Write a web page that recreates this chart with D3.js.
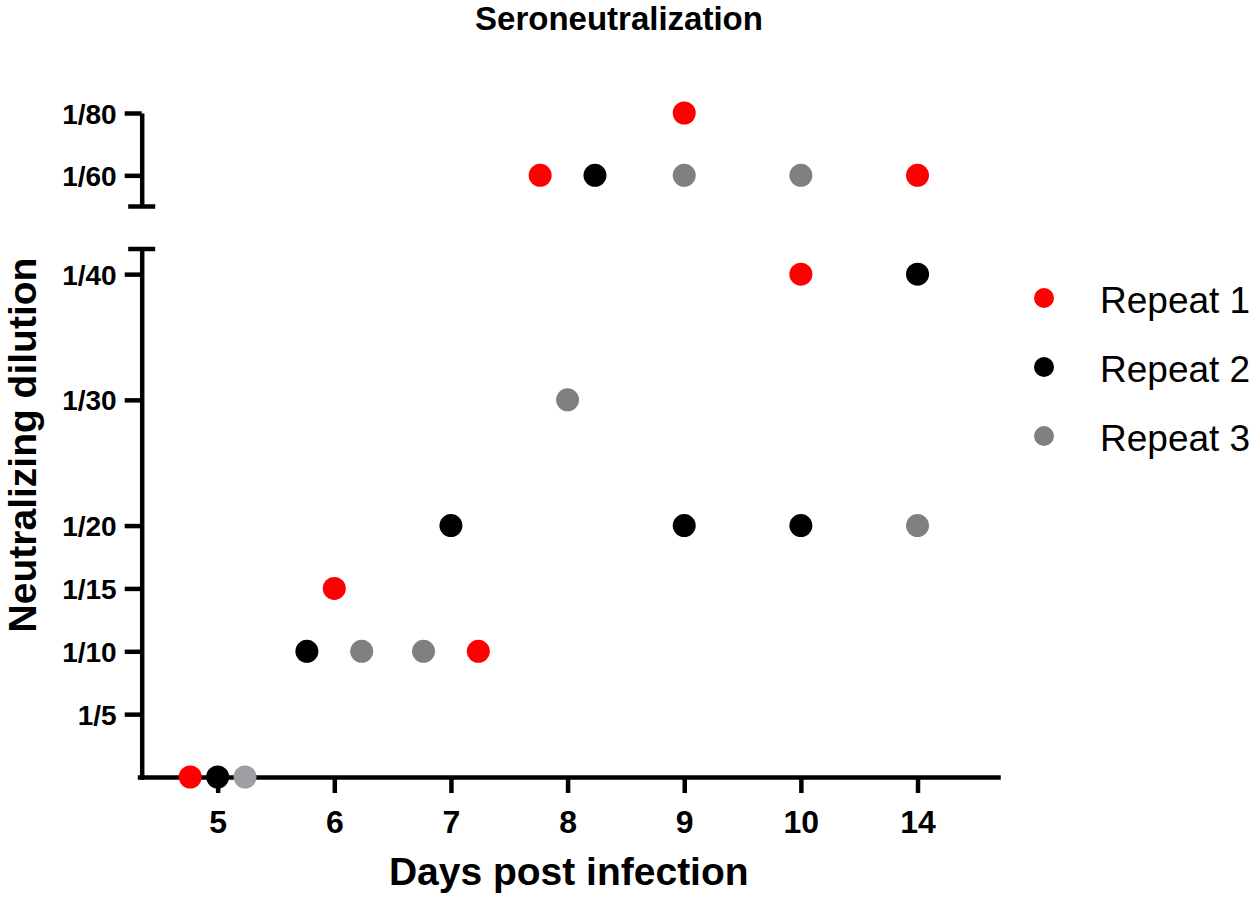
<!DOCTYPE html>
<html>
<head>
<meta charset="utf-8">
<script src="https://cdn.jsdelivr.net/npm/d3@7"></script>
<style>
  body { margin: 0; background: #fff; }
  svg { display: block; }
  text { font-family: "Liberation Sans", Arial, Helvetica, sans-serif; fill: #000; }
</style>
</head>
<body>
<div id="chart"></div>
<script>
// data (value = denominator of the dilution, 0 = none)
const days = ["5", "6", "7", "8", "9", "10", "14"];
const repeat1 = [0, 15, 10, 60, 80, 40, 60];
const repeat2 = [0, 10, 20, 60, 20, 20, 40];
const repeat3 = [0, 10, 10, 30, 60, 60, 20];
// side by side slot when values coincide on a day (-1 left, 0 centre, 1 right)
const slot1 = [-1, 0, 1, -1, 0, 0, 0];
const slot2 = [0, -1, 0, 1, 0, 0, 0];
const slot3 = [1, 1, -1, 0, 0, 0, 0];
const lowerTicks = [5, 10, 15, 20, 30, 40];
const upperTicks = [60, 80];
const seriesNames = ["Repeat 1", "Repeat 2", "Repeat 3"];
const seriesColors = ["#ff0000", "#000000", "#808080"];

const W = 1260, H = 904;
const svg = d3.select("#chart").append("svg")
    .attr("width", W)
    .attr("height", H);

const x = d3.scaleLinear().domain([-0.67, 6.69]).range([139.5, 998]);
const yLow = d3.scaleLinear().domain([0, 42]).range([777, 249]);
const yHigh = d3.scaleLinear().domain([50, 80]).range([206.5, 113]);
const y = v => v >= 50 ? yHigh(v) : yLow(v);
const axisX = 141.7;
const spread = 0.235;
const lw = 4.5;

function styleAxis(g) {
    g.selectAll(".domain").attr("stroke", "#000").attr("stroke-width", lw).attr("stroke-linecap", "square");
    g.selectAll(".tick line").attr("stroke", "#000").attr("stroke-width", lw);
}

// x axis
const gx = svg.append("g")
    .attr("transform", `translate(0,${yLow(0)})`)
    .call(d3.axisBottom(x)
        .tickValues(d3.range(days.length))
        .tickFormat(i => days[i])
        .tickSizeInner(16)
        .tickSizeOuter(0));
styleAxis(gx);
gx.selectAll(".tick text")
    .attr("y", 56).attr("dy", 0)
    .attr("font-size", 32).attr("font-weight", "bold")
    .attr("font-family", "Liberation Sans, Arial, sans-serif");

// y axis, lower part
const gyLow = svg.append("g")
    .attr("transform", `translate(${axisX},0)`)
    .call(d3.axisLeft(yLow)
        .tickValues(lowerTicks)
        .tickFormat(d => "1/" + d)
        .tickSizeInner(17)
        .tickSizeOuter(0));
// y axis, upper part
const gyHigh = svg.append("g")
    .attr("transform", `translate(${axisX},0)`)
    .call(d3.axisLeft(yHigh)
        .tickValues(upperTicks)
        .tickFormat(d => "1/" + d)
        .tickSizeInner(17)
        .tickSizeOuter(0));
[gyLow, gyHigh].forEach(g => {
    styleAxis(g);
    g.selectAll(".tick text")
        .attr("x", -25).attr("dy", "0.36em")
        .attr("font-size", 28).attr("font-weight", "bold")
        .attr("font-family", "Liberation Sans, Arial, sans-serif");
});
gyHigh.select(".domain").attr("stroke-linecap", "butt");

// break caps
[yLow(42), yHigh(50)].forEach(cy => {
    svg.append("line")
        .attr("x1", axisX - 13.5).attr("x2", axisX + 13.5)
        .attr("y1", cy).attr("y2", cy)
        .attr("stroke", "#000").attr("stroke-width", lw);
});

// points
const series = [repeat1, repeat2, repeat3];
const slots = [slot1, slot2, slot3];
const points = [];
series.forEach((vals, s) => vals.forEach((v, i) => points.push({ s, i, v, slot: slots[s][i] })));

svg.append("g").selectAll("circle")
    .data(points)
    .enter()
    .append("circle")
    .attr("cx", d => x(d.i + d.slot * spread))
    .attr("cy", d => y(d.v))
    .attr("r", 11.5)
    .attr("fill", d => (d.s === 2 && d.v === 0) ? "#9e9ea3" : seriesColors[d.s]);

// legend
const lg = svg.append("g").selectAll("g")
    .data(seriesNames)
    .enter()
    .append("g")
    .attr("transform", (d, k) => `translate(0,${298 + k * 69})`);
lg.append("circle")
    .attr("cx", 1044).attr("cy", 0).attr("r", 10)
    .attr("fill", (d, k) => seriesColors[k]);
lg.append("text")
    .attr("x", 1100).attr("y", 15)
    .attr("font-size", 37)
    .text(d => d);

// titles
svg.append("text")
    .attr("x", 619).attr("y", 30)
    .attr("text-anchor", "middle")
    .attr("font-size", 33).attr("font-weight", "bold")
    .text("Seroneutralization");
svg.append("text")
    .attr("x", (x.range()[0] + x.range()[1]) / 2).attr("y", 885)
    .attr("text-anchor", "middle")
    .attr("font-size", 39).attr("font-weight", "bold")
    .text("Days post infection");
svg.append("text")
    .attr("transform", "translate(36,445) rotate(-90)")
    .attr("text-anchor", "middle")
    .attr("font-size", 39).attr("font-weight", "bold")
    .text("Neutralizing dilution");
</script>
</body>
</html>
